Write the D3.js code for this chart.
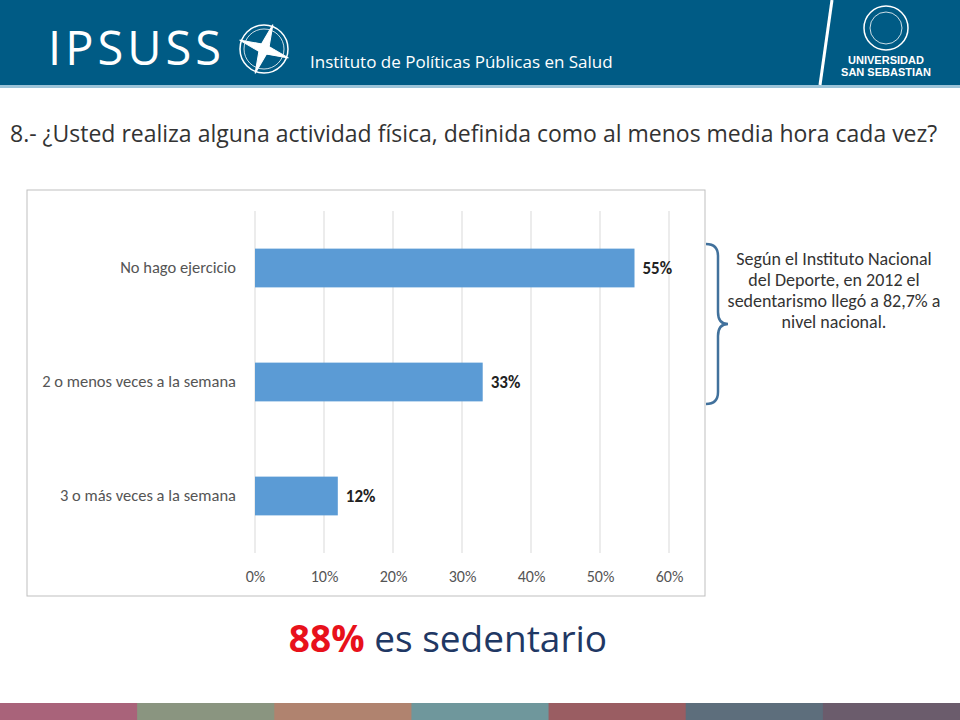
<!DOCTYPE html>
<html><head><meta charset="utf-8">
<script src="https://cdn.jsdelivr.net/npm/d3@7"></script>
<style>body{margin:0;background:#fff;font-family:Calibri,Carlito,"Open Sans",sans-serif}</style>
</head><body><div id="chart"></div>
<script>
// data
var categories = ["No hago ejercicio","2 o menos veces a la semana","3 o más veces a la semana"];
var values = [0.55,0.33,0.12];
var ticks = [0,0.1,0.2,0.3,0.4,0.5,0.6];
var footColors = ["#a9637a","#8a9580","#b0836f","#6f979c","#9a5d62","#5d6e7c","#6b5c6c"];

var W=960,H=720;
var svg=d3.select("#chart").append("svg").attr("width",W).attr("height",H);

// header
svg.append("rect").attr("width",W).attr("height",85).attr("fill","#005b85");
svg.append("rect").attr("y",85).attr("width",W).attr("height",3).attr("fill","#9cc3d8");
svg.append("text").attr("x",48).attr("y",65).attr("fill","#fff").attr("font-size",47)
 .attr("font-family","Open Sans").attr("letter-spacing",4).text("IPSUSS");
var comp=svg.append("g").attr("transform","translate(264,49)").attr("stroke","#fff").attr("fill","none");
comp.append("circle").attr("r",24).attr("stroke-width",1.5);
comp.append("circle").attr("r",20).attr("stroke-width",0.8);
comp.append("path").attr("d","M0,-26L4,-4L26,0L4,4L0,26L-4,4L-26,0L-4,-4Z").attr("fill","#fff").attr("transform","rotate(20)");
svg.append("text").attr("x",310).attr("y",68).attr("fill","#fff").attr("font-size",17)
 .attr("font-family","Open Sans").text("Instituto de Políticas Públicas en Salud");
svg.append("line").attr("x1",832).attr("y1",0).attr("x2",820).attr("y2",85).attr("stroke","#fff").attr("stroke-width",3);
svg.append("circle").attr("cx",886).attr("cy",28).attr("r",22).attr("fill","none").attr("stroke","#fff").attr("stroke-width",1.5);
svg.append("circle").attr("cx",886).attr("cy",28).attr("r",16).attr("fill","none").attr("stroke","#fff").attr("stroke-width",0.8);
svg.append("text").attr("x",886).attr("y",64).attr("text-anchor","middle").attr("fill","#fff").attr("font-size",11).attr("font-weight","bold").attr("font-family","Liberation Sans Narrow, Liberation Sans").text("UNIVERSIDAD");
svg.append("text").attr("x",886).attr("y",76).attr("text-anchor","middle").attr("fill","#fff").attr("font-size",11).attr("font-weight","bold").attr("font-family","Liberation Sans Narrow, Liberation Sans").text("SAN SEBASTIAN");

// title
svg.append("text").attr("x",10).attr("y",142).attr("fill","#333").attr("font-size",23).attr("font-family","Open Sans")
 .text("8.- ¿Usted realiza alguna actividad física, definida como al menos media hora cada vez?");

// chart frame
svg.append("rect").attr("x",27).attr("y",190).attr("width",678).attr("height",406).attr("fill","#fff").attr("stroke","#bfbfbf");

var x=d3.scaleLinear().domain([0,0.6]).range([255,669]);
var y=d3.scaleBand().domain(categories).range([211,553]).paddingInner(0.66).paddingOuter(0.33);

var g=svg.append("g");
g.selectAll(".grid").data(ticks).enter().append("line")
 .attr("x1",d=>x(d)).attr("x2",d=>x(d)).attr("y1",211).attr("y2",553).attr("stroke","#d9d9d9");
g.selectAll(".bar").data(values).enter().append("rect")
 .attr("x",x(0)).attr("y",(d,i)=>y(categories[i])).attr("width",d=>x(d)-x(0)).attr("height",y.bandwidth())
 .attr("fill","#5b9bd5");
g.selectAll(".lab").data(values).enter().append("text")
 .attr("x",d=>x(d)+8).attr("y",(d,i)=>y(categories[i])+y.bandwidth()/2+6)
 .attr("font-size",17).attr("font-weight","bold").attr("fill","#222").text(d=>Math.round(d*100)+"%");

var ax=svg.append("g").attr("transform","translate(0,568)")
 .call(d3.axisBottom(x).tickValues(ticks).tickFormat(d3.format(".0%")).tickSize(0));
ax.select(".domain").remove();
ax.selectAll("text").attr("font-size",16).attr("fill","#555").attr("font-family","Calibri,Carlito,Open Sans");
var ay=svg.append("g").attr("transform","translate(239,0)").call(d3.axisLeft(y).tickSize(0));
ay.select(".domain").remove();
ay.selectAll("text").attr("font-size",16.5).attr("fill","#555").attr("font-family","Calibri,Carlito,Open Sans");

// brace
svg.append("path").attr("d","M706,244 Q718,244 718,256 L718,312 Q718,324 728,324 Q718,324 718,336 L718,392 Q718,404 706,404")
 .attr("fill","none").attr("stroke","#41719c").attr("stroke-width",2.5);
var note=["Según el Instituto Nacional","del Deporte, en 2012 el","sedentarismo llegó a 82,7% a","nivel nacional."];
svg.append("g").selectAll("text").data(note).enter().append("text")
 .attr("x",834).attr("y",(d,i)=>265+i*21).attr("text-anchor","middle").attr("font-size",18).attr("fill","#333")
 .text(d=>d);

// bottom statement
var t=svg.append("text").attr("x",448).attr("y",652).attr("text-anchor","middle").attr("font-size",37).attr("font-family","Open Sans");
t.append("tspan").attr("fill","#e8111b").attr("font-weight","bold").text("88%");
t.append("tspan").attr("fill","#1f3864").text(" es sedentario");

// footer band
var fx=d3.scaleBand().domain(d3.range(footColors.length)).range([0,W]);
svg.selectAll(".foot").data(footColors).enter().append("rect")
 .attr("x",(d,i)=>fx(i)).attr("y",703).attr("width",fx.bandwidth()+1).attr("height",17).attr("fill",d=>d);
</script></body></html>
